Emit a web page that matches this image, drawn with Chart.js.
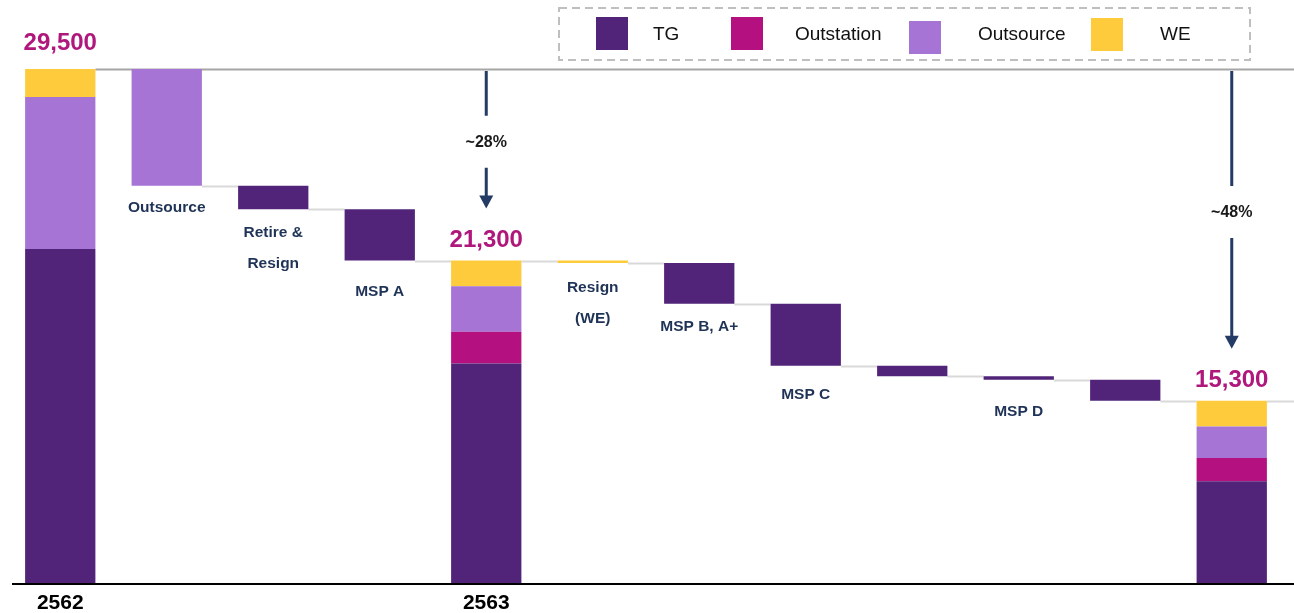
<!DOCTYPE html>
<html>
<head>
<meta charset="utf-8">
<script src="https://cdn.jsdelivr.net/npm/chart.js@4.4.1/dist/chart.umd.min.js"></script>
<style>
  html, body { margin: 0; padding: 0; background: #fff; }
  #wrap { width: 1294px; height: 613px; }
</style>
</head>
<body>
<div id="wrap"><canvas id="chart" width="1294" height="613"></canvas></div>
<script>
// waterfall: headcount 2562 -> 2563 -> end, broken down by staff type

// x axis (year under the total bars only)
const yearLabels = ['2562', '', '', '', '2563', '', '', '', '', '', '', ''];

// step names written under each drop bar
const stepLabels = [
  [], ['Outsource'], ['Retire &', 'Resign'], ['MSP A'], [], ['Resign', '(WE)'],
  ['MSP B, A+'], ['MSP C'], [], ['MSP D'], [], []
];

// total bars, stacked per type (null = no total in that column)
const tgTotals         = [21800, null, null, null, 16900, null, null, null, null, null, null, 11850];
const outstationTotals = [null,  null, null, null, 1350,  null, null, null, null, null, null, 1000];
const outsourceTotals  = [6500,  null, null, null, 1950,  null, null, null, null, null, null, 1350];
const weTotals         = [1200,  null, null, null, 1100,  null, null, null, null, null, null, 1100];

// drops between totals and which type they come from
const stepDrops  = [null, 5000, 1000, 2200, null, 100, 1750, 2650, 450, 150, 900, null];
const stepSeries = [null, 'Outsource', 'TG', 'TG', null, 'WE', 'TG', 'TG', 'TG', 'TG', 'TG', null];

// change vs 2562 shown on the arrows
const changeLabels = ['', '', '', '', '~28%', '', '', '', '', '', '', '~48%'];

const seriesNames = ['TG', 'Outstation', 'Outsource', 'WE'];
const seriesTotals = [tgTotals, outstationTotals, outsourceTotals, weTotals];

const COLORS = {
  TG: '#51247a',
  Outstation: '#b5107f',
  Outsource: '#a674d4',
  WE: '#fdcb3b'
};

const Y_MIN = 7500;
const Y_MAX = 29500;
const BAR_PCT = 0.66;

// extra gap under each drop bar before its label (style only)
const labelGap = [0, 22, 24, 31, 0, 25, 23, 29, 0, 32, 0, 0];

// build floating ranges + running level
const ranges = seriesNames.map(() => yearLabels.map(() => null));
const levels = [];   // level after each column (line to next bar)
const barBottoms = [];
const totals = [];
let level = 0;
yearLabels.forEach((_, i) => {
  if (stepDrops[i] == null) {
    let base = 0;
    seriesTotals.forEach((arr, s) => {
      const v = arr[i];
      if (v) {
        ranges[s][i] = [base, base + v];
        base += v;
      }
    });
    level = base;
    totals[i] = base;
    barBottoms[i] = base;
  } else {
    const s = seriesNames.indexOf(stepSeries[i]);
    ranges[s][i] = [level - stepDrops[i], level];
    level -= stepDrops[i];
    barBottoms[i] = level;
    totals[i] = null;
  }
  levels[i] = level;
});

const datasets = seriesNames.map((name, s) => ({
  label: name,
  data: ranges[s],
  backgroundColor: COLORS[name],
  borderWidth: 0,
  grouped: false,
  barPercentage: BAR_PCT,
  categoryPercentage: 1,
  clip: 0
}));

function barEdges(chart, i) {
  const x = chart.scales.x;
  const w = (x.width / yearLabels.length) * BAR_PCT;
  const c = x.getPixelForValue(i);
  return { left: c - w / 2, right: c + w / 2, center: c };
}

// connectors + reference line at the first total
const connectorPlugin = {
  id: 'connectors',
  beforeDatasetsDraw(chart) {
    const ctx = chart.ctx;
    const y = chart.scales.y;
    ctx.save();
    ctx.strokeStyle = '#a6a6a6';
    ctx.lineWidth = 2;
    ctx.beginPath();
    const topY = Math.round(y.getPixelForValue(totals[0])) + 0.5;
    ctx.moveTo(barEdges(chart, 0).right, topY);
    ctx.lineTo(chart.width, topY);
    ctx.stroke();

    ctx.strokeStyle = '#d9d9d9';
    for (let i = 1; i < yearLabels.length; i++) {
      const e = barEdges(chart, i);
      const py = Math.round(y.getPixelForValue(levels[i])) + 0.5;
      const endX = i === yearLabels.length - 1 ? chart.width : barEdges(chart, i + 1).left;
      ctx.beginPath();
      ctx.moveTo(e.right, py);
      ctx.lineTo(endX, py);
      ctx.stroke();
    }
    ctx.restore();
  }
};

const labelPlugin = {
  id: 'labels',
  afterDatasetsDraw(chart) {
    const ctx = chart.ctx;
    const y = chart.scales.y;
    ctx.save();
    ctx.textAlign = 'center';
    ctx.textBaseline = 'middle';

    yearLabels.forEach((_, i) => {
      const e = barEdges(chart, i);
      // totals on top
      if (totals[i] != null) {
        ctx.fillStyle = '#b0177d';
        ctx.font = 'bold 24px "Liberation Sans", Arial, sans-serif';
        const off = i === 0 ? 26 : 20;
        ctx.fillText(totals[i].toLocaleString('en-US'), e.center, y.getPixelForValue(totals[i]) - off);
      }
      // step names under the drop bars
      if (stepLabels[i].length) {
        ctx.fillStyle = '#1f3356';
        ctx.font = 'bold 15.5px "Liberation Sans", Arial, sans-serif';
        const by = y.getPixelForValue(barBottoms[i]);
        stepLabels[i].forEach((line, k) => {
          ctx.fillText(line, e.center, by + labelGap[i] + k * 31);
        });
      }
      // change arrows
      if (changeLabels[i]) {
        const top = y.getPixelForValue(totals[0]) + 2;
        const bottom = y.getPixelForValue(totals[i]) - 52;
        const mid = (top + bottom) / 2 + 3;
        ctx.strokeStyle = '#243b66';
        ctx.fillStyle = '#243b66';
        ctx.lineWidth = 3;
        ctx.beginPath();
        ctx.moveTo(e.center, top);
        ctx.lineTo(e.center, mid - 27);
        ctx.moveTo(e.center, mid + 25);
        ctx.lineTo(e.center, bottom - 12);
        ctx.stroke();
        ctx.beginPath();
        ctx.moveTo(e.center - 7, bottom - 13);
        ctx.lineTo(e.center + 7, bottom - 13);
        ctx.lineTo(e.center, bottom);
        ctx.closePath();
        ctx.fill();
        ctx.fillStyle = '#1a1a1a';
        ctx.font = 'bold 16px "Liberation Sans", Arial, sans-serif';
        ctx.fillText(changeLabels[i], e.center, mid);
      }
    });
    ctx.restore();
  },
  afterDraw(chart) {
    const ctx = chart.ctx;
    const area = chart.chartArea;
    ctx.save();
    // x axis line
    ctx.strokeStyle = '#000';
    ctx.lineWidth = 2;
    ctx.beginPath();
    ctx.moveTo(12, area.bottom + 1);
    ctx.lineTo(chart.width, area.bottom + 1);
    ctx.stroke();

    // legend in a dashed box
    ctx.strokeStyle = '#bfbfbf';
    ctx.lineWidth = 2;
    ctx.setLineDash([8, 5]);
    ctx.strokeRect(559, 8, 691, 52);
    ctx.setLineDash([]);
    const swatchX = [596, 731, 909, 1091];
    const swatchY = [17, 17, 21, 18];
    const textX = [653, 795, 978, 1160];
    ctx.font = '19px "Liberation Sans", Arial, sans-serif';
    ctx.textBaseline = 'middle';
    ctx.textAlign = 'left';
    seriesNames.forEach((name, s) => {
      ctx.fillStyle = COLORS[name];
      ctx.fillRect(swatchX[s], swatchY[s], 32, 33);
      ctx.fillStyle = '#111';
      ctx.fillText(name, textX[s], 35);
    });
    ctx.restore();
  }
};

new Chart(document.getElementById('chart').getContext('2d'), {
  type: 'bar',
  data: { labels: yearLabels, datasets },
  options: {
    responsive: false,
    animation: false,
    devicePixelRatio: 1,
    layout: { padding: { top: 69, left: 7, right: 9, bottom: 0 } },
    plugins: { legend: { display: false }, tooltip: { enabled: false } },
    scales: {
      x: {
        grid: { display: false, drawTicks: false },
        border: { display: false },
        ticks: {
          autoSkip: false,
          maxRotation: 0,
          padding: 8,
          color: '#000',
          font: { family: '"Liberation Sans", Arial, sans-serif', size: 21, weight: 'bold' }
        },
        afterFit(scale) { scale.height = 30; }
      },
      y: { display: false, min: Y_MIN, max: Y_MAX }
    }
  },
  plugins: [connectorPlugin, labelPlugin]
});
</script>
</body>
</html>
